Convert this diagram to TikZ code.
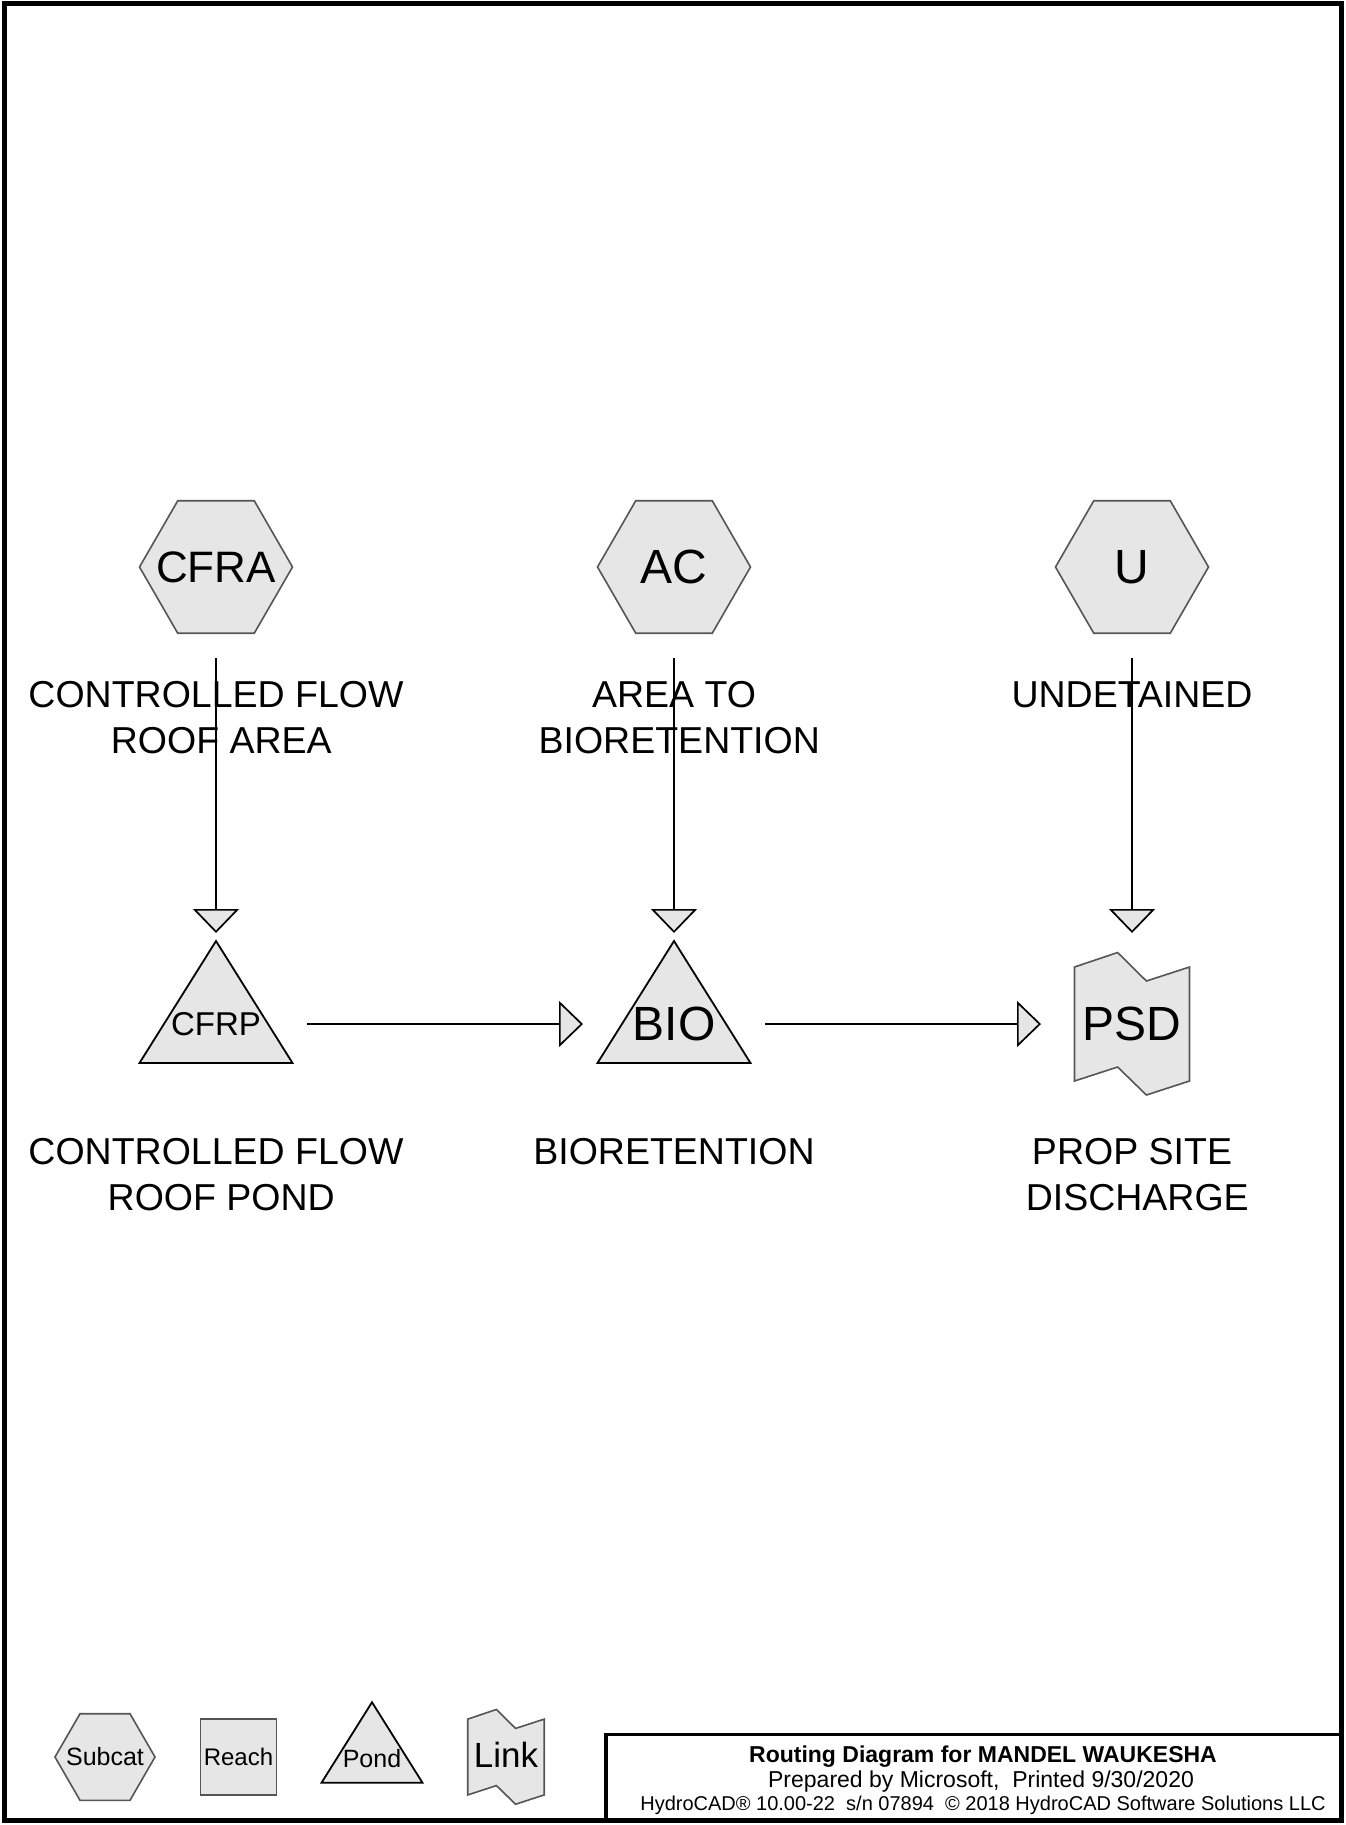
\documentclass[tikz,border=0pt]{standalone}
\usepackage{fontspec}
\setmainfont{Liberation Sans}
\usetikzlibrary{shapes.geometric, arrows.meta, calc, positioning}
\definecolor{hcfill}{RGB}{230,230,230}
\definecolor{hcedge}{RGB}{85,85,85}
\tikzstyle{subcat} = [regular polygon, regular polygon sides=6, minimum size=153pt, inner sep=0pt, inner xsep=-20pt, draw=hcedge, line width=1.6pt, fill=hcfill, font=\fontsize{48}{48}\selectfont]
\tikzstyle{reach} = [rectangle, minimum size=76pt, inner sep=0pt, draw=hcedge, line width=1.6pt, fill=hcfill]
\tikzstyle{bigtext} = [inner sep=0pt, font=\fontsize{48}{48}\selectfont]
\tikzstyle{desc} = [align=center, inner sep=0pt, font=\fontsize{37.5}{46}\selectfont]
\tikzstyle{flow} = [line width=1.7pt, shorten <=91pt, shorten >=91pt, -{Triangle[width=46pt, length=24pt, fill=hcfill]}]
\tikzset{
	pond/.pic = {\draw[line width=1.8pt, fill=hcfill] (0,-83) -- (76.5,39) -- (-76.5,39) -- cycle;},
	link/.pic = {\draw[draw=hcedge, line width=1.6pt, fill=hcfill] (-57.5,-57) -- (-14.4,-71.5) -- (14.4,-43) -- (57.5,-57) -- (57.5,57) -- (14.4,71) -- (-14.4,43) -- (-57.5,57) -- cycle;},
}

\begin{document}
\begin{tikzpicture}[x=1pt, y=-1pt]
		\useasboundingbox (0,0) rectangle (1345,1825);
		\draw[line width=5pt] (4,4) rectangle (1341,1820);
		
		% subcatchments
		\node (CFRA) [subcat, font=\fontsize{44}{44}\selectfont] at (216,567) {CFRA};
		\node (AC) [subcat] at (674,567) {AC};
		\node (U) [subcat] at (1132,567) {U};
		\node (CFRAlabel) [desc, below = 47pt of CFRA] {CONTROLLED FLOW\\\hspace*{.28em}ROOF AREA};
		\node (AClabel) [desc, below = 47pt of AC] {AREA TO\\\hspace*{.28em}BIORETENTION};
		\node (Ulabel) [desc, below = 47pt of U] {UNDETAINED};
		
		% ponds and link
		\pic at (216,1024) {pond};
		\node (CFRP) [bigtext, font=\fontsize{33}{33}\selectfont] at (216,1024) {CFRP};
		\pic at (674,1024) {pond};
		\node (BIO) [bigtext] at (674,1024) {BIO};
		\pic at (1132,1024) {link};
		\node (PSD) [bigtext] at (1132,1024) {PSD};
		\node (CFRPlabel) [desc, anchor=north] at ($(CFRP)+(0,114)$) {CONTROLLED FLOW\\\hspace*{.28em}ROOF POND};
		\node (BIOlabel) [desc, anchor=north] at ($(BIO)+(0,114)$) {BIORETENTION};
		\node (PSDlabel) [desc, anchor=north] at ($(PSD)+(0,114)$) {PROP SITE\\\hspace*{.28em}DISCHARGE};
		
		\draw [flow] (CFRA.center) -- (CFRP.center);
		\draw [flow] (AC.center) -- (BIO.center);
		\draw [flow] (U.center) -- (PSD.center);
		\draw [flow] (CFRP.center) -- (BIO.center);
		\draw [flow] (BIO.center) -- (PSD.center);
		
		% legend
		\node (Subcat) [subcat, minimum size=100pt, font=\fontsize{25}{25}\selectfont] at (105,1757) {Subcat};
		\node (Reach) [reach, font=\fontsize{24}{24}\selectfont] at (238.5,1757) {Reach};
		\pic[scale=0.66] at (372,1757) {pond};
		\node (Pond) [bigtext, font=\fontsize{25}{25}\selectfont] at (372,1759) {Pond};
		\pic[scale=0.665] at (506,1757) {link};
		\node (Link) [bigtext, font=\fontsize{35}{35}\selectfont] at (506,1755) {Link};
		
		% title block
		\draw[line width=3.5pt] (606,1820) |- (1341,1734.5);
		\node (Title) [anchor=base, font=\fontsize{23}{23}\selectfont\bfseries] at (983,1762) {Routing Diagram for MANDEL WAUKESHA};
		\node (Prepared) [anchor=base, font=\fontsize{23}{23}\selectfont] at (981,1787) {Prepared by Microsoft,\ \ Printed 9/30/2020};
		\node (Software) [anchor=base, font=\fontsize{20}{20}\selectfont] at (983,1810) {HydroCAD® 10.00-22\ \ s/n 07894\ \ © 2018 HydroCAD Software Solutions LLC};
\end{tikzpicture}
\end{document}
